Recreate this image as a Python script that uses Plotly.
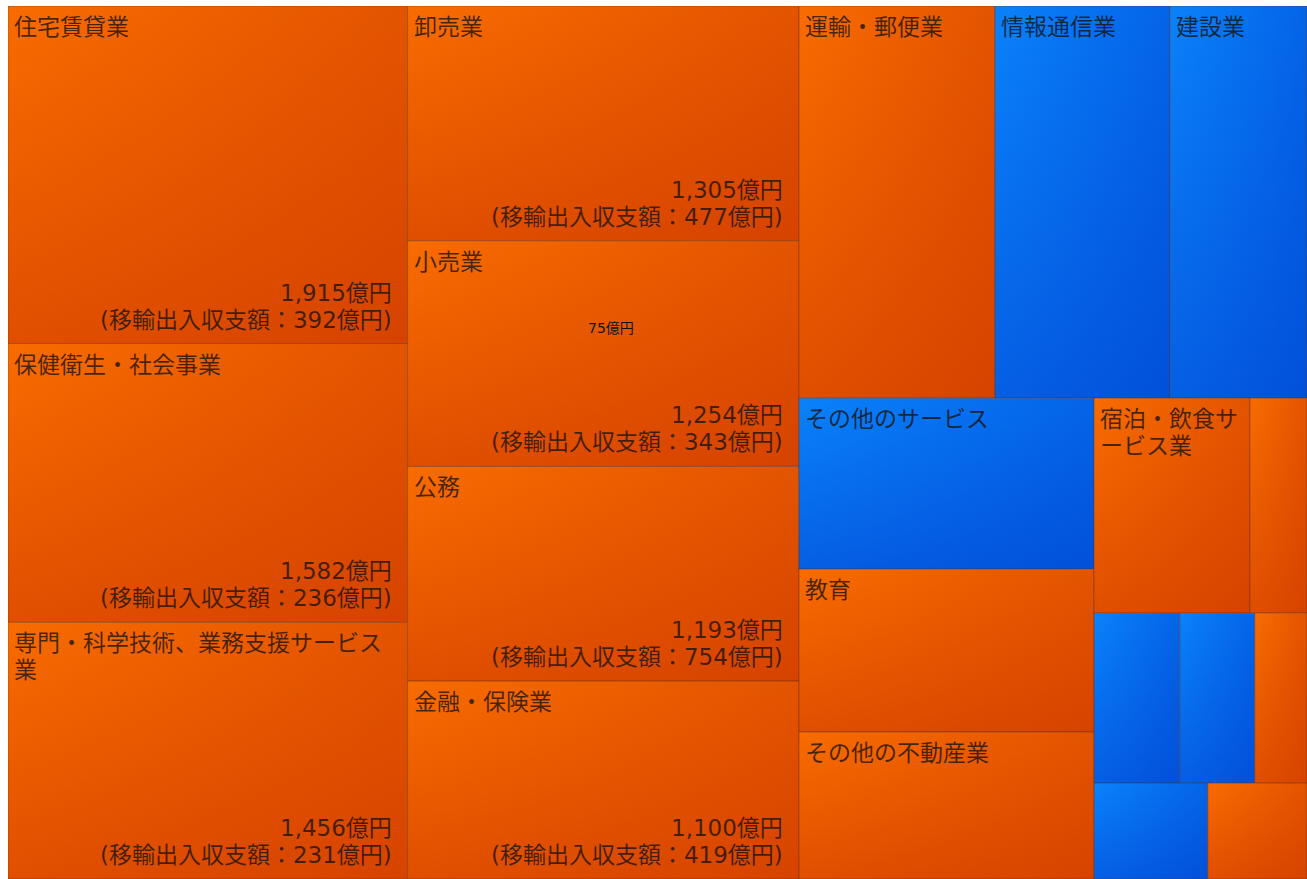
import plotly.graph_objects as go

# ---- data -----------------------------------------------------------------
industries = [
    "住宅賃貸業", "保健衛生・社会事業", "専門・科学技術、業務支援サービス業",
    "卸売業", "小売業", "公務", "金融・保険業",
    "運輸・郵便業", "情報通信業", "建設業",
    "その他のサービス", "教育", "その他の不動産業",
    "宿泊・飲食サービス業", "", "", "", "", "", "",
]
# 付加価値額（億円）
values = [1915, 1582, 1456, 1305, 1254, 1193, 1100,
          1091, 976, 762, 716, 682, 616,
          476, 174, 207, 181, 126, 155, 135]
# 移輸出入収支額（億円）: shown for the leading industries only
net_balance = [392, 236, 231, 477, 343, 754, 419] + [None] * 13
# sign of the balance, used for the tile colour
balance_sign = ["+", "+", "+", "+", "+", "+", "+",
                "+", "-", "-", "-", "+", "+",
                "+", "+", "-", "-", "+", "-", "+"]
# strips of the tiling: number of tiles and stacking direction
strip_sizes = [3, 4, 3, 3, 2, 3, 2]
strip_dirs = ["col", "col", "row", "col", "row", "row", "row"]
note_text = "75億円"

# ---- page geometry -----------------------------------------------------------
FIG_W, FIG_H = 1307, 879
MARGIN = dict(l=8, r=0, t=6, b=0, pad=0)
PLOT_W = FIG_W - MARGIN["l"] - MARGIN["r"]
PLOT_H = FIG_H - MARGIN["t"] - MARGIN["b"]
FONT = "DejaVu Sans, Noto Sans CJK JP, sans-serif"
FONT_PX = 23
LINE_PX = 27
TEXT_COLOR = "rgba(25,18,12,0.78)"

PALETTE = {
    "+": dict(left="#F86C00", right="#E35400", shade=(200, 50, 0)),
    "-": dict(left="#0A82FA", right="#0464E8", shade=(0, 60, 205)),
}


def strip_layout(vals, sizes, dirs):
    """Split the unit square into strips; every tile's area is proportional to its value."""
    x0, y0, x1, y1 = 0.0, 0.0, 1.0, 1.0
    remaining = float(sum(vals))
    rects, i = [], 0
    for n, d in zip(sizes, dirs):
        group = vals[i:i + n]
        s = float(sum(group))
        if d == "col":
            w = (x1 - x0) * s / remaining
            yy = y0
            for v in group:
                h = (y1 - y0) * v / s
                rects.append((x0, yy, x0 + w, yy + h))
                yy += h
            x0 += w
        else:
            h = (y1 - y0) * s / remaining
            xx = x0
            for v in group:
                w = (x1 - x0) * v / s
                rects.append((xx, y0, xx + w, y0 + h))
                xx += w
            y0 += h
        remaining -= s
        i += n
    return rects


def wrap(label, width_px):
    per_line = max(1, int((width_px - 16) // FONT_PX))
    return [label[k:k + per_line] for k in range(0, len(label), per_line)]


def text_line(x, y, text, anchor, xshift, yshift):
    return dict(
        x=x, y=y, xref="x", yref="y", xanchor=anchor, yanchor="middle",
        xshift=xshift, yshift=yshift, showarrow=False, text=text,
        font=dict(family=FONT, size=FONT_PX, color=TEXT_COLOR),
    )


rects = strip_layout(values, strip_sizes, strip_dirs)

fig = go.Figure()
annotations = []
for name, val, nb, sign, (x0, y0, x1, y1) in zip(industries, values, net_balance, balance_sign, rects):
    pal = PALETTE[sign]
    xs = [x0, x1, x1, x0, x0]
    ys = [y0, y0, y1, y1, y0]
    r, g, b = pal["shade"]
    # base fill: left-to-right shading
    fig.add_trace(go.Scatter(
        x=xs, y=ys, mode="lines", fill="toself",
        line=dict(width=0),
        fillgradient=dict(type="horizontal", start=x0, stop=x1,
                          colorscale=[[0, pal["left"]], [1, pal["right"]]]),
        hoverinfo="skip", showlegend=False,
    ))
    # darkening towards the bottom, plus the tile outline
    fig.add_trace(go.Scatter(
        x=xs, y=ys, mode="lines", fill="toself",
        line=dict(width=1, color="rgba(90,45,25,0.4)"),
        fillgradient=dict(type="vertical", start=y0, stop=y1,
                          colorscale=[[0, f"rgba({r},{g},{b},0)"],
                                      [1, f"rgba({r},{g},{b},0.5)"]]),
        hoveron="fills", name=name or " ",
        hovertemplate=f"{name}<br>{val:,}億円<extra></extra>",
        showlegend=False,
    ))
    if name:
        for k, part in enumerate(wrap(name, (x1 - x0) * PLOT_W)):
            annotations.append(text_line(x0, y0, part, "left", 4, -(21 + LINE_PX * k)))
    if nb is not None:
        annotations.append(text_line(x1, y1, f"{val:,}億円", "right", -14, 24 + LINE_PX))
        annotations.append(text_line(x1, y1, f"(移輸出入収支額：{nb}億円)", "right", -14, 24))

# small centred note inside the 小売業 tile
rx0, ry0, rx1, ry1 = rects[industries.index("小売業")]
annotations.append(dict(
    x=(rx0 + rx1) / 2, y=(ry0 + ry1) / 2, xref="x", yref="y",
    xshift=8, yshift=26, showarrow=False, text=note_text,
    font=dict(family=FONT, size=14, color="#111111"),
))

fig.update_layout(
    width=FIG_W, height=FIG_H, margin=MARGIN,
    paper_bgcolor="white", plot_bgcolor="white",
    xaxis=dict(range=[0, 1], visible=False, fixedrange=True),
    yaxis=dict(range=[1, 0], visible=False, fixedrange=True),
    annotations=annotations, hovermode="closest",
)

fig.write_html("out.html")
